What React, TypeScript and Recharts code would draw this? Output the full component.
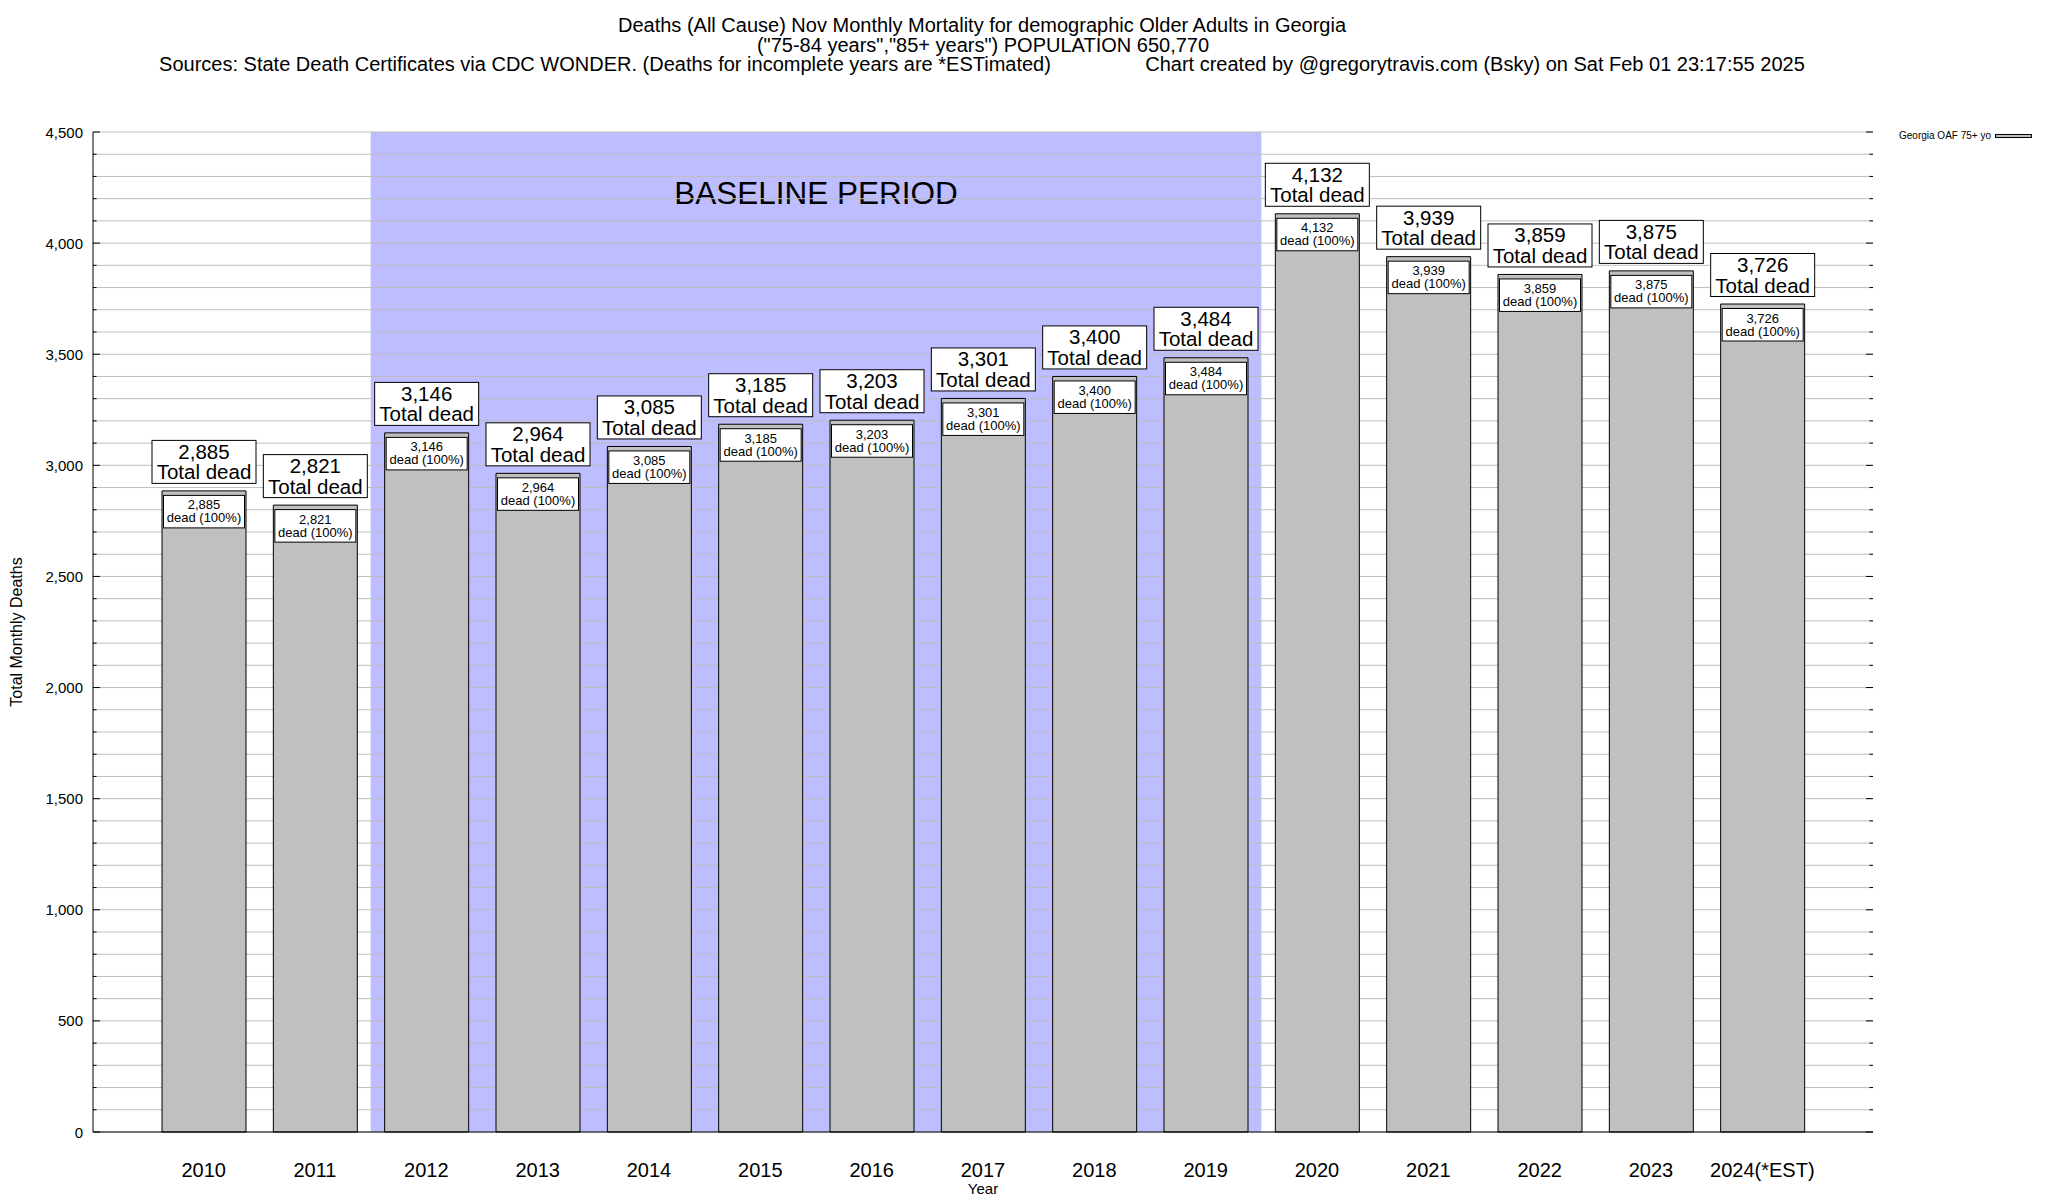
import React from 'react';
import {
  BarChart,
  Bar,
  XAxis,
  YAxis,
  CartesianGrid,
  ReferenceArea,
  LabelList,
  Legend,
} from 'recharts';

const years = [
  '2010', '2011', '2012', '2013', '2014', '2015', '2016', '2017',
  '2018', '2019', '2020', '2021', '2022', '2023', '2024(*EST)',
];
const deaths = [
  2885, 2821, 3146, 2964, 3085, 3185, 3203, 3301,
  3400, 3484, 4132, 3939, 3859, 3875, 3726,
];
const majorTicks = [0, 500, 1000, 1500, 2000, 2500, 3000, 3500, 4000, 4500];
const yTicks: number[] = [];
for (let v = 0; v <= 4500; v += 100) yTicks.push(v);

const baselineStart = '2012';
const baselineEnd = '2019';
const seriesName = 'Georgia OAF 75+ yo';

const data = years.map((year, i) => ({ year, deaths: deaths[i] }));

const FONT = '"Liberation Sans", Arial, Helvetica, sans-serif';
const PLOT_LEFT = 93;
const PLOT_RIGHT = 1873;

const fmt = (v: number) => v.toLocaleString('en-US');

function YTick(props: any) {
  const { x, y, payload } = props;
  const v = payload.value as number;
  const major = majorTicks.includes(v);
  const len = major ? 7 : 3.5;
  return (
    <g>
      {major && (
        <text
          x={x}
          y={y}
          textAnchor="end"
          dominantBaseline="central"
          fontSize={15}
          fontFamily={FONT}
          fill="#000"
        >
          {fmt(v)}
        </text>
      )}
      <line x1={PLOT_LEFT} x2={PLOT_LEFT + len} y1={y} y2={y} stroke="#000" strokeWidth={1} />
      <line x1={PLOT_RIGHT - len} x2={PLOT_RIGHT} y1={y} y2={y} stroke="#000" strokeWidth={1} />
    </g>
  );
}

function BarLabel(props: any) {
  const { x, y, width, value } = props;
  const cx = x + width / 2;
  const label = fmt(Number(value));
  return (
    <g fontFamily={FONT}>
      <rect x={x + 1.5} y={y + 4.5} width={width - 3} height={32.5} fill="#fff" stroke="#000" strokeWidth={1} />
      <text x={cx} y={y + 14} textAnchor="middle" dominantBaseline="central" fontSize={13} fill="#000">
        {label}
      </text>
      <text x={cx} y={y + 27} textAnchor="middle" dominantBaseline="central" fontSize={13} fill="#000">
        dead (100%)
      </text>
      <rect x={cx - 52} y={y - 50.5} width={104} height={43} fill="#fff" stroke="#000" strokeWidth={1} />
      <text x={cx} y={y - 39.5} textAnchor="middle" dominantBaseline="central" fontSize={20.5} fill="#000">
        {label}
      </text>
      <text x={cx} y={y - 19} textAnchor="middle" dominantBaseline="central" fontSize={20.5} fill="#000">
        Total dead
      </text>
    </g>
  );
}

function LegendContent() {
  return (
    <div
      style={{
        display: 'flex',
        alignItems: 'center',
        fontSize: 10,
        lineHeight: '12px',
        fontFamily: FONT,
        color: '#000',
        whiteSpace: 'nowrap',
      }}
    >
      <span>{seriesName}</span>
      <span
        style={{
          display: 'inline-block',
          width: 35,
          height: 2,
          background: '#C0C0C0',
          border: '1px solid #000',
          marginLeft: 4,
        }}
      />
    </div>
  );
}

const titleStyle: React.CSSProperties = {
  position: 'absolute',
  fontSize: 20,
  lineHeight: '20px',
  whiteSpace: 'pre',
  transform: 'translateX(-50%)',
  color: '#000',
  fontFamily: FONT,
};

export default function App() {
  return (
    <div
      style={{
        position: 'absolute',
        left: 0,
        top: 0,
        width: 2048,
        height: 1200,
        background: '#fff',
        fontFamily: FONT,
        overflow: 'hidden',
      }}
    >
      <div style={{ ...titleStyle, left: 982, top: 15 }}>
        Deaths (All Cause) Nov Monthly Mortality for demographic Older Adults in Georgia
      </div>
      <div style={{ ...titleStyle, left: 983, top: 34.5 }}>
        ("75-84 years","85+ years") POPULATION 650,770
      </div>
      <div style={{ ...titleStyle, left: 605, top: 54 }}>
        Sources: State Death Certificates via CDC WONDER. (Deaths for incomplete years are *ESTimated)
      </div>
      <div style={{ ...titleStyle, left: 1475, top: 54 }}>
        Chart created by @gregorytravis.com (Bsky) on Sat Feb 01 23:17:55 2025
      </div>
      <BarChart
        width={2048}
        height={1200}
        data={data}
        margin={{ top: 132, right: 175, bottom: 0, left: 0 }}
        style={{ fontFamily: FONT }}
      >
        <ReferenceArea
          x1={baselineStart}
          x2={baselineEnd}
          fill="#BDBDFF"
          fillOpacity={1}
          stroke="none"
          zIndex={-150}
          label={{
            content: (p: any) => {
              const vb = p.viewBox || {};
              return (
                <text
                  x={vb.x + vb.width / 2}
                  y={vb.y + 61}
                  textAnchor="middle"
                  dominantBaseline="central"
                  fontSize={31.5}
                  fontFamily={FONT}
                  fill="#000"
                >
                  BASELINE PERIOD
                </text>
              );
            },
          }}
        />
        <CartesianGrid vertical={false} stroke="#BEBEBE" strokeWidth={1} />
        <XAxis
          dataKey="year"
          type="category"
          interval={0}
          padding={{ left: 55, right: 55 }}
          height={68}
          tickLine={false}
          tickSize={0}
          tickMargin={31}
          axisLine={{ stroke: '#000', strokeWidth: 1 }}
          tick={{ fontSize: 20, fill: '#000', fontFamily: FONT }}
          label={{
            content: (p: any) => {
              const vb = p.viewBox || {};
              return (
                <text
                  x={vb.x + vb.width / 2}
                  y={vb.y + 56}
                  textAnchor="middle"
                  dominantBaseline="central"
                  fontSize={15}
                  fontFamily={FONT}
                  fill="#000"
                >
                  Year
                </text>
              );
            },
          }}
        />
        <XAxis
          xAxisId="top"
          orientation="top"
          dataKey="year"
          type="category"
          height={0}
          tick={false}
          tickLine={false}
          axisLine={{ stroke: '#000', strokeWidth: 1 }}
        />
        <YAxis
          type="number"
          domain={[0, 4500]}
          ticks={yTicks}
          interval={0}
          width={93}
          tickLine={false}
          tickSize={0}
          tickMargin={10}
          axisLine={{ stroke: '#000', strokeWidth: 1 }}
          tick={<YTick />}
          label={{
            content: (p: any) => {
              const vb = p.viewBox || {};
              const cy = vb.y + vb.height / 2;
              return (
                <text
                  x={16}
                  y={cy}
                  textAnchor="middle"
                  dominantBaseline="central"
                  fontSize={16}
                  fontFamily={FONT}
                  fill="#000"
                  transform={`rotate(-90, 16, ${cy})`}
                >
                  Total Monthly Deaths
                </text>
              );
            },
          }}
        />
        <YAxis
          yAxisId="right"
          orientation="right"
          type="number"
          domain={[0, 4500]}
          width={0}
          tick={false}
          tickLine={false}
          axisLine={{ stroke: '#000', strokeWidth: 1 }}
        />
        <Legend
          layout="horizontal"
          verticalAlign="middle"
          align="center"
          content={<LegendContent />}
          wrapperStyle={{ position: 'absolute', top: 130, left: 1899, width: 145, height: 12 }}
        />
        <Bar
          dataKey="deaths"
          name={seriesName}
          fill="#C0C0C0"
          stroke="#000"
          strokeWidth={1}
          barSize={84}
          isAnimationActive={false}
        >
          <LabelList dataKey="deaths" content={<BarLabel />} />
        </Bar>
      </BarChart>
    </div>
  );
}
